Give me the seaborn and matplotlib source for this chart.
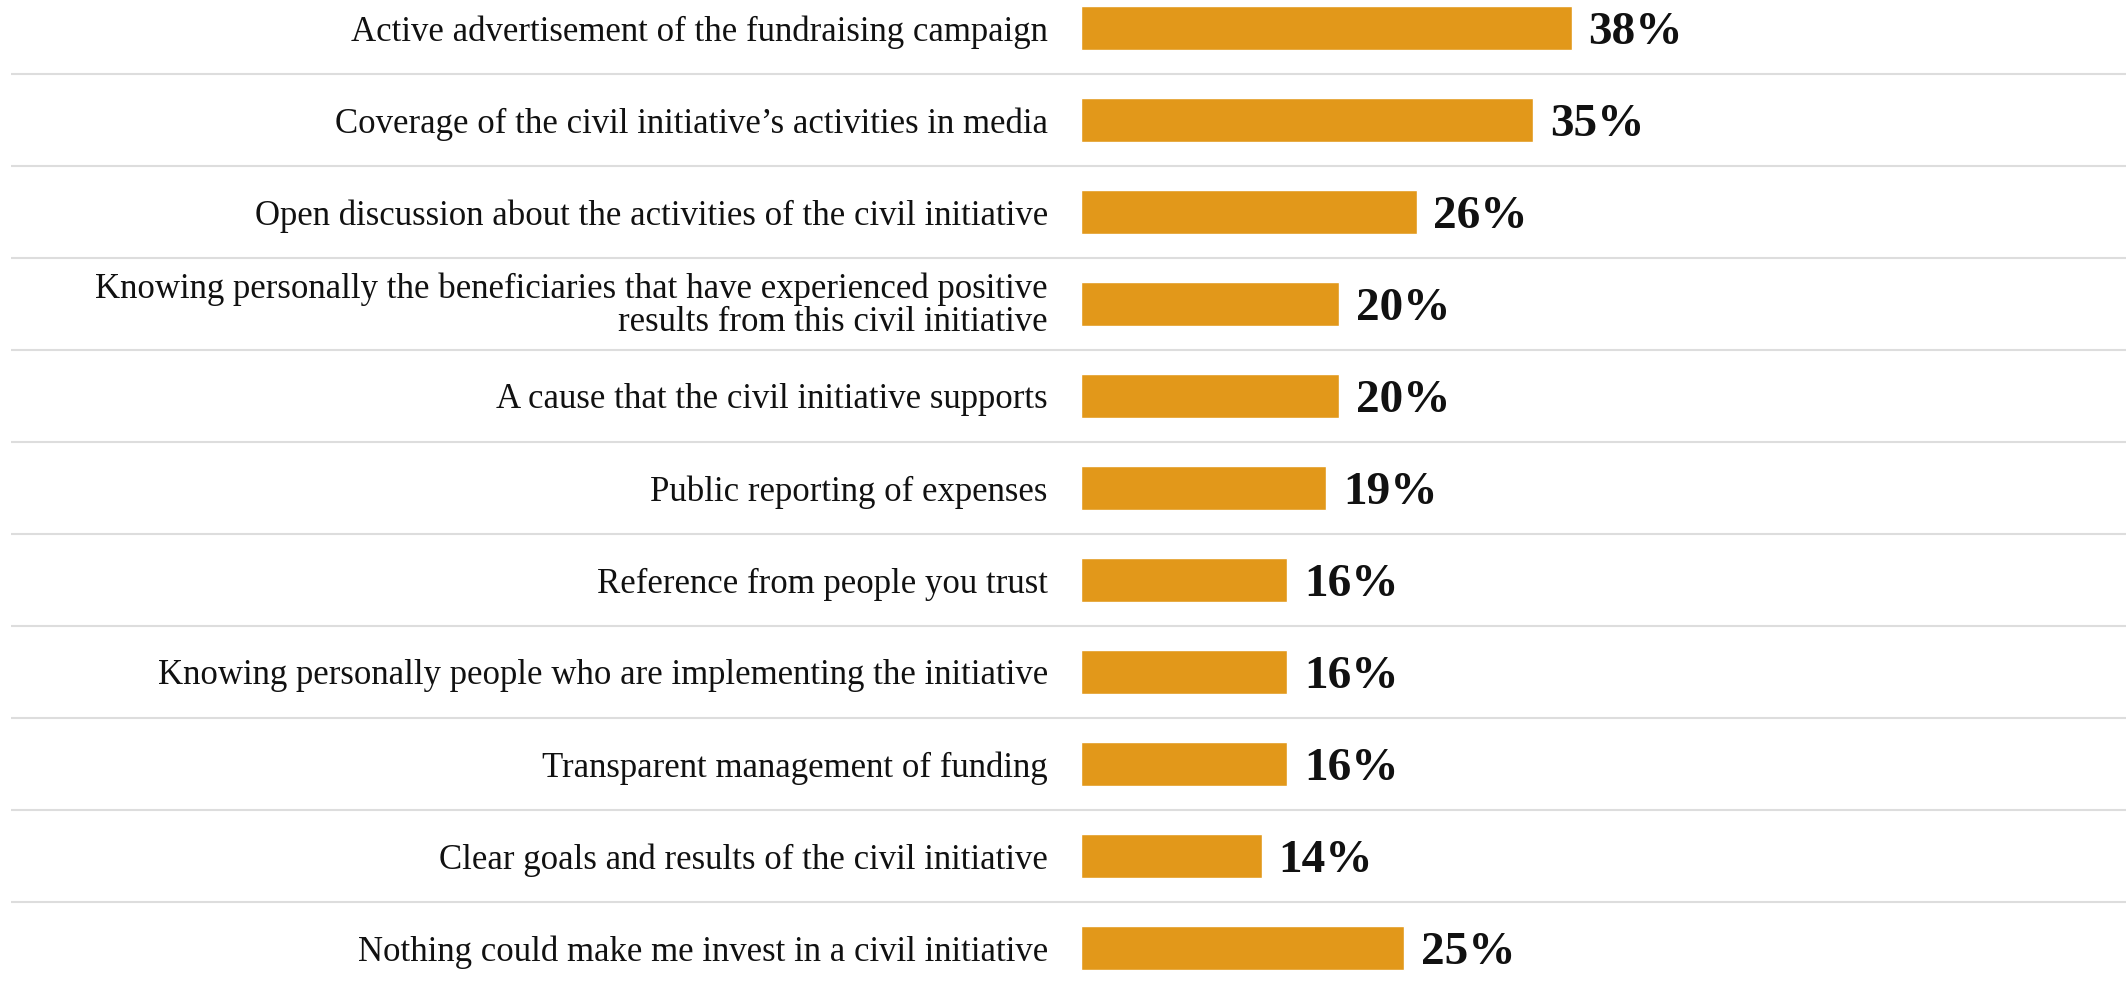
import matplotlib.pyplot as plt
import seaborn as sns
import pandas as pd

categories = [
    'Active advertisement of the fundraising campaign',
    'Coverage of the civil initiative\u2019s activities in media',
    'Open discussion about the activities of the civil initiative',
    'Knowing personally the beneficiaries that have experienced positive\nresults from this civil initiative',
    'A cause that the civil initiative supports',
    'Public reporting of expenses',
    'Reference from people you trust',
    'Knowing personally people who are implementing the initiative',
    'Transparent management of funding',
    'Clear goals and results of the civil initiative',
    'Nothing could make me invest in a civil initiative',
]
values = [38, 35, 26, 20, 20, 19, 16, 16, 16, 14, 25]

df = pd.DataFrame({'answer': categories, 'share': values})

sns.set_style('white')
plt.rcParams['font.family'] = ['Liberation Serif', 'DejaVu Serif']

fig = plt.figure(figsize=(21.26, 9.9), dpi=100)
ax = fig.add_axes([11 / 2126, 0, 1 - 11 / 2126, 1])

sns.barplot(data=df, y='answer', x='share', order=categories, color='#E2981A',
            saturation=1, width=0.47, orient='h', ax=ax)

# bar starts at x=1081px, 12.92 px per percent
ax.set_xlim(-82.8, 80.9)
ax.set_ylim(10.457, -0.304)

for i, (label, v) in enumerate(zip(categories, values)):
    if '\n' in label:
        ax.text(-2.55, i + 0.02, label, ha='right', va='center', fontsize=25,
                linespacing=1.0, color='#111111')
    else:
        ax.text(-2.55, i, label, ha='right', va='center_baseline', fontsize=25,
                color='#111111')
    ax.text(v + 1.3, i, f'{v}%', ha='left', va='center_baseline', fontsize=34,
            fontweight='bold', color='#111111')

for i in range(len(categories) - 1):
    ax.axhline(i + 0.5, color='#DDDDDD', lw=1.5, zorder=0)

ax.set_xticks([])
ax.set_yticks([])
ax.set_xlabel('')
ax.set_ylabel('')
sns.despine(ax=ax, left=True, bottom=True)

fig.savefig('out.png', dpi=100)
